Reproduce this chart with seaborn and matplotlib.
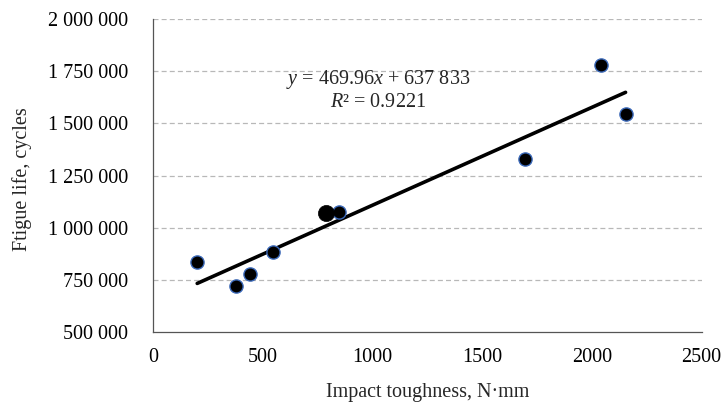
import numpy as np
import pandas as pd
import matplotlib
matplotlib.use("Agg")
import matplotlib.pyplot as plt
import seaborn as sns
from matplotlib.ticker import FuncFormatter

# measured points
impact = [200, 375, 440, 545, 848, 1696, 2041, 2153]
fatigue = [833000, 721000, 779000, 883000, 1077000, 1330000, 1780000, 1546000]
# the large marker
big_impact = [785]
big_fatigue = [1070000]

slope = 469.96
intercept = 637833
r2 = 0.9221

x_ticks = [0, 500, 1000, 1500, 2000, 2500]
y_ticks = [500000, 750000, 1000000, 1250000, 1500000, 1750000, 2000000]

sns.set_style("white")
plt.rcParams["font.family"] = ["Liberation Serif", "DejaVu Serif"]
plt.rcParams["mathtext.fontset"] = "custom"
plt.rcParams["mathtext.rm"] = "Liberation Serif"
plt.rcParams["mathtext.it"] = "Liberation Serif:italic"

fs = 14.5

df = pd.DataFrame({"impact": impact, "fatigue": fatigue})
df_big = pd.DataFrame({"impact": big_impact, "fatigue": big_fatigue})

fig, ax = plt.subplots(figsize=(7.26, 4.04), dpi=100)
fig.subplots_adjust(left=0.2112, right=0.9665, bottom=0.179, top=0.952)

for yt in y_ticks[1:]:
    ax.axhline(yt, color="#b8b8b8", lw=0.9, ls=(0, (4, 2.5)), zorder=0)

all_x = impact + big_impact
line_x = np.array([min(all_x), max(all_x)])
line_df = pd.DataFrame({"impact": line_x, "fatigue": slope * line_x + intercept})
sns.lineplot(data=line_df, x="impact", y="fatigue", color="black", lw=2.6, ax=ax, zorder=3)

sns.scatterplot(data=df, x="impact", y="fatigue", color="black", s=90,
                edgecolor="#3a68b8", linewidth=1.0, ax=ax, zorder=4)
sns.scatterplot(data=df_big, x="impact", y="fatigue", color="black", s=135,
                edgecolor="black", linewidth=0.5, ax=ax, zorder=4)

ax.set_xlim(0, 2500)
ax.set_ylim(500000, 2000000)
ax.set_xticks(x_ticks)
ax.set_yticks(y_ticks)
ax.yaxis.set_major_formatter(FuncFormatter(lambda v, p: f"{int(v):,}".replace(",", " ")))

sns.despine(ax=ax)
for side in ["left", "bottom"]:
    ax.spines[side].set_color("#555555")
    ax.spines[side].set_linewidth(0.9)
ax.tick_params(axis="both", direction="out", length=5, width=0.9, color="#555555",
               labelsize=fs, labelcolor="black")
ax.tick_params(axis="y", pad=13)
ax.tick_params(axis="x", pad=7)

ax.set_xlabel("Impact toughness, N·mm", fontsize=fs)
ax.set_ylabel("Ftigue life, cycles", fontsize=fs)
ax.xaxis.set_label_coords(0.5, -0.163)
ax.yaxis.set_label_coords(-0.221, 0.49)

ax.text(1024, 1713000, f"$y$ = {slope}$x$ + 637 833", ha="center", va="center", fontsize=fs)
ax.text(1024, 1603000, f"$R$² = {r2}", ha="center", va="center", fontsize=fs)

fig.savefig("out.png", dpi=100)
